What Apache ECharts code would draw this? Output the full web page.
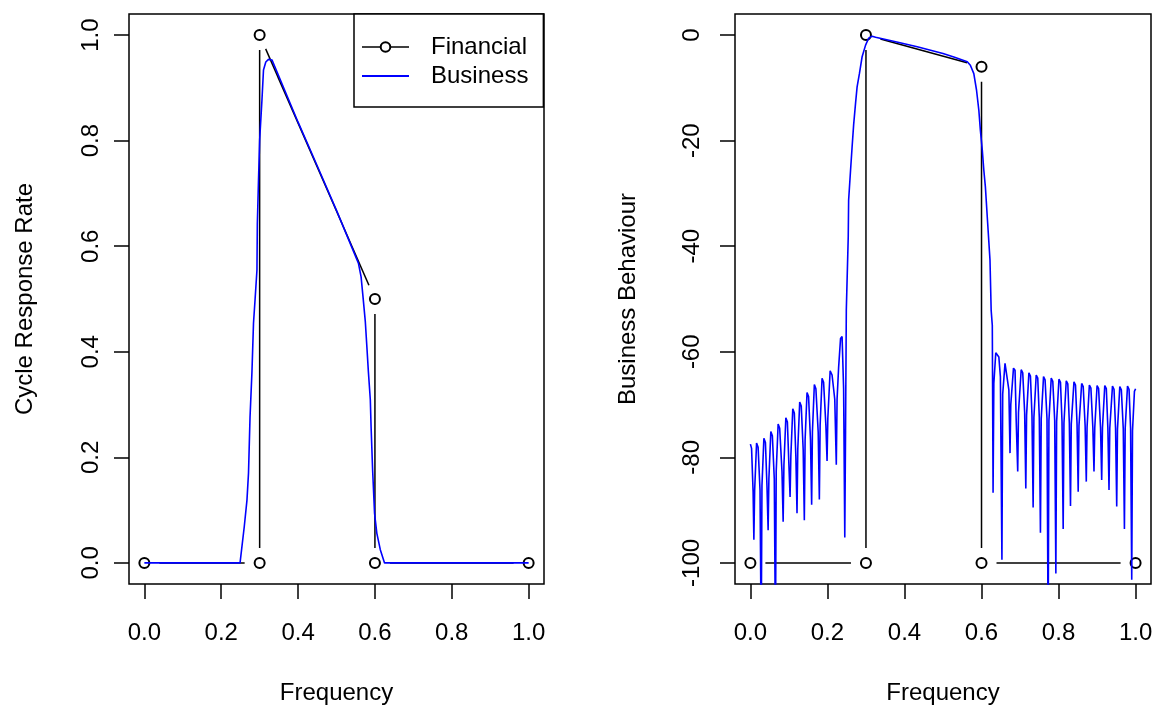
<!DOCTYPE html>
<html>
<head>
<meta charset="utf-8">
<title>Cycle response / Business behaviour</title>
<script src="https://cdn.jsdelivr.net/npm/echarts@6/dist/echarts.min.js"></script>
<style>
  html, body { margin: 0; padding: 0; background: #fff; }
  #chart { width: 1156px; height: 709px; }
</style>
</head>
<body>
<div id="chart"></div>
<script>
const FONT = "'Liberation Sans', Arial, sans-serif";
const BLUE = '#0000ff';

// tick labels
const freqTicks = [0, 0.2, 0.4, 0.6, 0.8, 1.0];
const rateTicks = [0, 0.2, 0.4, 0.6, 0.8, 1.0];
const dbTicks = [-100, -80, -60, -40, -20, 0];

// Financial: design points (drawn as type "b": circles + lines with gaps)
const financialFreq = [0, 0.3, 0.3, 0.6, 0.6, 1];
const financialRate = [0, 0, 1, 0.5, 0, 0];
const financialDb = [-100, -100, 0, -6, -100, -100];

// Business: response on the left panel (linear)
const businessFreq = [0, 0.249, 0.260, 0.267, 0.271, 0.275, 0.280, 0.284, 0.288, 0.293,
  0.294, 0.297, 0.300, 0.306, 0.310, 0.316, 0.323, 0.332, 0.400, 0.450, 0.500,
  0.557, 0.564, 0.569, 0.575, 0.579, 0.583, 0.588, 0.590, 0.594, 0.599, 0.605, 0.614, 0.625, 1.000];
const businessRate = [0, 0, 0.069, 0.119, 0.170, 0.277, 0.362, 0.454, 0.498, 0.555,
  0.643, 0.725, 0.801, 0.877, 0.934, 0.949, 0.954, 0.953, 0.835, 0.752, 0.668,
  0.568, 0.542, 0.504, 0.457, 0.410, 0.362, 0.309, 0.258, 0.176, 0.094, 0.056, 0.025, 0, 0];

// Business: response on the right panel in dB, [freq, dB]
const businessDbLow = [
  [0.000, -77.5], [0.003, -78.3], [0.007, -86.5], [0.009, -95.6],
  [0.011, -86.3], [0.016, -77.3], [0.020, -78.1], [0.025, -86.3], [0.028, -115],
  [0.030, -85.4], [0.035, -76.4], [0.039, -77.2], [0.043, -85.4], [0.046, -93.8],
  [0.048, -84.1], [0.053, -75.1], [0.057, -75.9], [0.062, -84.1], [0.065, -115],
  [0.067, -82.7], [0.072, -73.7], [0.076, -74.5], [0.082, -82.7], [0.085, -92.2],
  [0.087, -81.5], [0.092, -72.5], [0.096, -73.3], [0.100, -81.5], [0.103, -87.5],
  [0.105, -79.8], [0.110, -70.8], [0.114, -71.6], [0.118, -79.8], [0.121, -90.6],
  [0.123, -78.5], [0.128, -69.5], [0.132, -70.3], [0.137, -78.5], [0.140, -91.9],
  [0.142, -76.7], [0.147, -67.7], [0.151, -68.5], [0.156, -76.7], [0.159, -89.0],
  [0.161, -75.2], [0.166, -66.2], [0.170, -67.0], [0.176, -75.2], [0.179, -88.0],
  [0.181, -74.0], [0.186, -65.0], [0.190, -65.8], [0.196, -74.0], [0.199, -80.7],
  [0.201, -72.6], [0.207, -63.6], [0.212, -64.4], [0.219, -69.0], [0.223, -81.4],
  [0.225, -69.0], [0.229, -63.0], [0.234, -57.5], [0.238, -57.1], [0.242, -67.0], [0.245, -95.2]
];
const businessDbBand = [
  [0.247, -75.0], [0.249, -52.1], [0.254, -38.2], [0.255, -31.3], [0.260, -25.6],
  [0.264, -21.2], [0.268, -17.0], [0.273, -12.9], [0.277, -9.8], [0.283, -7.3],
  [0.290, -4.1], [0.299, -1.9], [0.307, -0.6], [0.316, -0.2], [0.325, -0.4],
  [0.380, -1.3], [0.433, -2.2], [0.500, -3.5], [0.530, -4.2], [0.563, -5.05],
  [0.571, -5.7], [0.580, -7.3], [0.587, -10.4], [0.593, -14.2], [0.597, -18.0],
  [0.602, -21.8], [0.606, -25.6], [0.610, -28.7], [0.616, -35.7], [0.622, -42.6],
  [0.625, -52.1], [0.628, -55.0]
];
const businessDbHigh = [
  [0.630, -86.7],
  [0.632, -66.0], [0.637, -60.2], [0.641, -60.0], [0.645, -61.0], [0.649, -64.7], [0.653, -99.4],
  [0.655, -68.0], [0.661, -62.2], [0.665, -62.4], [0.671, -67.2], [0.674, -79.2],
  [0.676, -70.0], [0.683, -63.1], [0.687, -63.5], [0.690, -72.9], [0.694, -82.7],
  [0.696, -71.5], [0.703, -63.4], [0.707, -64.0], [0.712, -71.5], [0.715, -85.9],
  [0.717, -72.0], [0.723, -64.0], [0.727, -64.6], [0.731, -72.0], [0.734, -89.5],
  [0.736, -72.4], [0.742, -64.4], [0.746, -65.0], [0.750, -72.4], [0.753, -94.3],
  [0.755, -72.7], [0.761, -64.7], [0.765, -65.3], [0.770, -72.7], [0.773, -115],
  [0.775, -73.0], [0.781, -65.0], [0.785, -65.6], [0.790, -73.0], [0.793, -102.0],
  [0.795, -73.2], [0.801, -65.2], [0.805, -65.8], [0.809, -73.2], [0.812, -93.6],
  [0.814, -73.5], [0.820, -65.5], [0.824, -66.1], [0.828, -73.5], [0.831, -89.2],
  [0.833, -73.7], [0.840, -65.7], [0.844, -66.3], [0.848, -73.7], [0.851, -86.5],
  [0.853, -74.0], [0.860, -66.0], [0.864, -66.6], [0.869, -74.0], [0.872, -84.6],
  [0.874, -74.3], [0.880, -66.3], [0.884, -66.9], [0.889, -74.3], [0.892, -82.7],
  [0.894, -74.4], [0.900, -66.4], [0.904, -67.0], [0.909, -74.4], [0.912, -84.3],
  [0.914, -74.4], [0.920, -66.4], [0.924, -67.0], [0.928, -74.4], [0.931, -86.2],
  [0.933, -74.5], [0.940, -66.5], [0.944, -67.1], [0.948, -74.5], [0.951, -89.3],
  [0.953, -74.6], [0.959, -66.6], [0.963, -67.2], [0.968, -74.6], [0.971, -93.6],
  [0.973, -74.5], [0.979, -66.5], [0.983, -67.1], [0.987, -74.5], [0.990, -103.2],
  [0.992, -75.0], [0.997, -67.5], [1.000, -67.0]
];

const GAP = 15; // px left open round each circle, like R's type = "b"

function zip(xs, ys) {
  return xs.map((x, i) => [x, ys[i]]);
}

function segments(points) {
  const out = [];
  for (let i = 1; i < points.length; i++) {
    out.push([points[i - 1][0], points[i - 1][1], points[i][0], points[i][1]]);
  }
  return out;
}

function gappedLine(params, api) {
  const p1 = api.coord([api.value(0), api.value(1)]);
  const p2 = api.coord([api.value(2), api.value(3)]);
  const dx = p2[0] - p1[0];
  const dy = p2[1] - p1[1];
  const len = Math.sqrt(dx * dx + dy * dy);
  if (len <= 2 * GAP) return null;
  const ux = dx / len, uy = dy / len;
  return {
    type: 'line',
    shape: { x1: p1[0] + ux * GAP, y1: p1[1] + uy * GAP, x2: p2[0] - ux * GAP, y2: p2[1] - uy * GAP },
    style: { stroke: '#000', lineWidth: 1.5 }
  };
}

function xAxisFor(gridIndex) {
  return {
    gridIndex: gridIndex,
    type: 'value',
    min: -0.04,
    max: 1.04,
    name: 'Frequency',
    nameLocation: 'middle',
    nameGap: 97,
    nameTextStyle: { fontSize: 24, color: '#000', fontFamily: FONT },
    axisLine: { show: false, onZero: false },
    splitLine: { show: false },
    axisTick: { show: true, inside: false, length: 15, customValues: freqTicks, lineStyle: { color: '#000', width: 1.5 } },
    axisLabel: { customValues: freqTicks, margin: 37, fontSize: 24, color: '#000', fontFamily: FONT, formatter: v => v.toFixed(1) }
  };
}

function yAxisFor(gridIndex, name, min, max, ticks, fmt, labelMargin, nameGap) {
  return {
    gridIndex: gridIndex,
    type: 'value',
    min: min,
    max: max,
    name: name,
    nameLocation: 'middle',
    nameRotate: 90,
    nameGap: nameGap,
    nameTextStyle: { fontSize: 24, color: '#000', fontFamily: FONT },
    axisLine: { show: false, onZero: false },
    splitLine: { show: false },
    axisTick: { show: true, inside: false, length: 15, customValues: ticks, lineStyle: { color: '#000', width: 1.5 } },
    axisLabel: { customValues: ticks, rotate: 90, margin: labelMargin, fontSize: 24, color: '#000', fontFamily: FONT, formatter: fmt }
  };
}

const financialRatePts = zip(financialFreq, financialRate);
const financialDbPts = zip(financialFreq, financialDb);

const chart = echarts.init(document.getElementById('chart'));
chart.setOption({
  animation: false,
  backgroundColor: '#fff',
  textStyle: { fontFamily: FONT },
  grid: [
    { left: 129, top: 14, width: 415, height: 570, show: true, borderColor: '#000', borderWidth: 1.5, backgroundColor: 'transparent', containLabel: false, outerBoundsMode: 'none' },
    { left: 735, top: 14, width: 416, height: 570, show: true, borderColor: '#000', borderWidth: 1.5, backgroundColor: 'transparent', containLabel: false, outerBoundsMode: 'none' }
  ],
  xAxis: [xAxisFor(0), xAxisFor(1)],
  yAxis: [
    yAxisFor(0, 'Cycle Response Rate', -0.04, 1.04, rateTicks, v => v.toFixed(1), 26, 92),
    yAxisFor(1, 'Business Behaviour', -104, 4, dbTicks, v => String(v), 31, 95)
  ],
  legend: {
    orient: 'vertical',
    left: 354,
    top: 14,
    padding: [21, 15, 19, 7],
    itemGap: 5,
    itemWidth: 47,
    itemHeight: 12,
    borderColor: '#000',
    borderWidth: 1.5,
    borderRadius: 0,
    backgroundColor: '#fff',
    selectedMode: false,
    textStyle: { fontSize: 24, color: '#000', fontFamily: FONT, padding: [0, 0, 0, 17] },
    data: [
      { name: 'Financial', lineStyle: { opacity: 1, color: '#000', width: 1.5 }, itemStyle: { color: '#000' } },
      { name: 'Business', itemStyle: { opacity: 0 } }
    ]
  },
  series: [
    {
      name: 'Financial', type: 'line', xAxisIndex: 0, yAxisIndex: 0,
      data: financialRatePts,
      symbol: 'emptyCircle', symbolSize: 10, showSymbol: true,
      lineStyle: { opacity: 0, color: '#000' },
      itemStyle: { color: '#000', borderWidth: 1.3 },
      emphasis: { disabled: true }, silent: true, z: 2
    },
    {
      name: 'Financial', type: 'custom', xAxisIndex: 0, yAxisIndex: 0,
      data: segments(financialRatePts),
      encode: { x: [0, 2], y: [1, 3] },
      renderItem: gappedLine, silent: true, z: 1
    },
    {
      name: 'Business', type: 'line', xAxisIndex: 0, yAxisIndex: 0,
      data: zip(businessFreq, businessRate),
      symbol: 'none', showSymbol: false,
      lineStyle: { color: BLUE, width: 1.6 },
      itemStyle: { color: BLUE },
      emphasis: { disabled: true }, silent: true, z: 4
    },
    {
      name: 'Financial', type: 'line', xAxisIndex: 1, yAxisIndex: 1,
      data: financialDbPts,
      symbol: 'emptyCircle', symbolSize: 10, showSymbol: true,
      lineStyle: { opacity: 0, color: '#000' },
      itemStyle: { color: '#000', borderWidth: 1.3 },
      emphasis: { disabled: true }, silent: true, z: 2
    },
    {
      name: 'Financial', type: 'custom', xAxisIndex: 1, yAxisIndex: 1,
      data: segments(financialDbPts),
      encode: { x: [0, 2], y: [1, 3] },
      renderItem: gappedLine, silent: true, z: 1
    },
    {
      name: 'Business', type: 'line', xAxisIndex: 1, yAxisIndex: 1,
      data: businessDbLow.concat(businessDbBand, businessDbHigh),
      symbol: 'none', showSymbol: false,
      lineStyle: { color: BLUE, width: 1.6 },
      itemStyle: { color: BLUE },
      emphasis: { disabled: true }, silent: true, z: 4
    }
  ]
});
</script>
</body>
</html>
